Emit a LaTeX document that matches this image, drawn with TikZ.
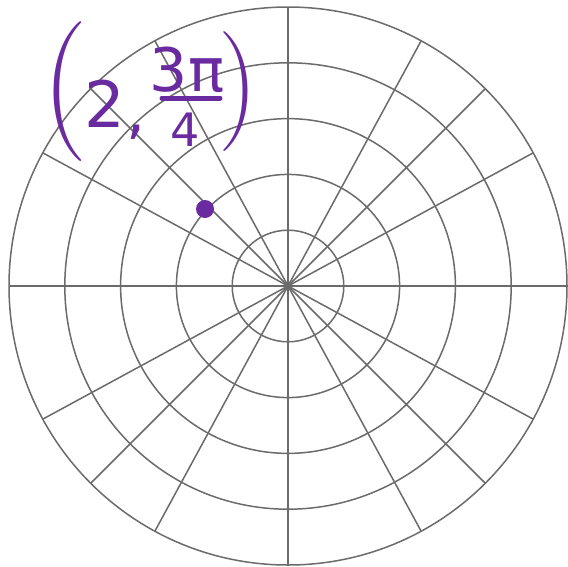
\documentclass[tikz,border=0pt]{standalone}
\usepackage{fontspec}
\newfontfamily\hand{DejaVu Sans}
\definecolor{pen}{RGB}{106,42,160}
\begin{document}
\begin{tikzpicture}[x=1pt,y=-1pt,
  grid/.style={draw=black!58,line width=1.5pt},
  ink/.style={text=pen,inner sep=0pt,font=\hand}]
\useasboundingbox (0,0) rectangle (568,566);
\fill[white] (0,0) rectangle (568,566);
\coordinate (O) at (288,286);
\foreach \k in {1,...,5} \draw[grid] (O) circle[radius=\k*55.8pt];
\foreach \a in {0,28.5,45,61.5,90,118.5,135,151.5,180,208.5,225,241.5,270,298.5,315,331.5}
  \draw[grid] (O) -- ++({279*cos(\a)},{-279*sin(\a)});
\node[circle,fill=pen,minimum size=18pt,inner sep=0pt] (pt) at (205,209) {};
\node[ink,font=\fontsize{40}{40}\selectfont] (lp) at (65,92) {\makebox[34pt][c]{\scalebox{3.2}[3.5]{(}}};
\node[ink,font=\hand\fontsize{64}{64}\selectfont] (two) at (105,104) {2};
\node[ink,font=\hand\fontsize{60}{60}\selectfont] (comma) at (136,132) {,};
\node[ink,font=\hand\fontsize{60}{60}\selectfont] (num) at (187,70) {3π};
\draw[pen,line width=5pt,line cap=round] (162,98) -- (220,98);
\node[ink,font=\hand\fontsize{46}{46}\selectfont] (den) at (185,130) {4};
\node[ink,font=\fontsize{40}{40}\selectfont] (rp) at (238,92) {\makebox[30pt][c]{\scalebox{2.8}[3.0]{)}}};
\end{tikzpicture}
\end{document}
